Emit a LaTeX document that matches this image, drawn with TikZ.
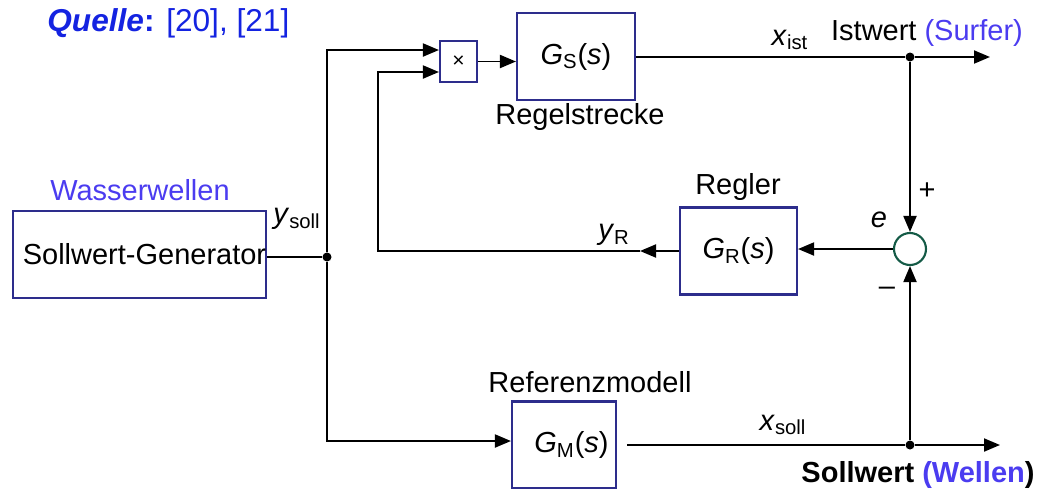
\documentclass[tikz,border=0pt]{standalone}
\usepackage{fontspec}
\setmainfont{Liberation Sans}
\usetikzlibrary{arrows.meta}
\definecolor{srcblue}{RGB}{20,35,225}
\definecolor{lblblue}{RGB}{75,60,240}
\definecolor{boxblue}{RGB}{45,45,140}
\definecolor{sumgreen}{RGB}{20,90,70}
\tikzset{
  block/.style={draw=boxblue,line width=1.2pt,inner sep=0pt,font=\fontsize{16.5}{20}\selectfont},
  sig/.style={line width=1.1pt,-{Triangle[length=0.32cm,width=0.26cm]}},
  wire/.style={line width=1.1pt},
  dot/.style={circle,fill=black,inner sep=0pt,minimum size=0.18cm},
  lbl/.style={inner sep=0pt,font=\fontsize{16.5}{20}\selectfont},
}
\begin{document}
\begin{tikzpicture}[x=0.02cm,y=-0.02cm]
   \useasboundingbox (0,0) rectangle (1039,488);

   \node[lbl,anchor=west,text=srcblue,font=\fontsize{18}{22}\selectfont] (src) at (47,23) {\textbf{\textit{Quelle}:} [20], [21]};

   \node[block,minimum width=5.06cm,minimum height=1.74cm] (gen) at (139.5,254.5) {\hspace{0.2cm}Sollwert-Generator};
   \node[lbl,text=lblblue] (wave) at (140,190) {Wasserwellen};
   \node[block,minimum width=0.74cm,minimum height=0.82cm,font=\fontsize{12}{14}\selectfont] (mult) at (458.5,61.5) {×};
   \node[block,minimum width=2.36cm,minimum height=1.74cm] (gs) at (576,56.5) {\textit{G}\textsubscript{S}(\textit{s})};
   \node[lbl] (strecke) at (580,117) {Regelstrecke};
   \node[block,minimum width=2.34cm,minimum height=1.74cm] (gr) at (738.5,251) {\textit{G}\textsubscript{R}(\textit{s})};
   \node[lbl] (regler) at (738,187) {Regler};
   \node[block,minimum width=2.08cm,minimum height=1.74cm] (gm) at (564,445) {\hspace{0.3cm}\textit{G}\textsubscript{M}(\textit{s})};
   \node[lbl] (refm) at (590,382) {Referenzmodell};
   \node[draw=sumgreen,circle,line width=1.2pt,minimum size=0.64cm,inner sep=0pt] (sum) at (910,249) {};

   \node[dot] (j1) at (327,257) {};
   \node[dot] (j2) at (910,57) {};
   \node[dot] (j3) at (910,445) {};
   \coordinate (out1) at (990,57);
   \coordinate (out2) at (1000,445);
   \coordinate (yR) at (640,251);
   \coordinate (top1) at (327,50);
   \coordinate (bot1) at (327,441);
   \coordinate (fb) at (378,251);

   % signal paths
   \draw[wire] (gen.east |- j1) -- (j1);
   \draw[sig] (j1) -- (top1) -- ([yshift=0.23cm]mult.west);
   \draw[sig] (j1) -- (bot1) -- (gm.west |- bot1);
   \draw[sig] (mult.east) -- (gs.west |- mult.east);
   \draw[wire] (gs.east |- j2) -- (j2);
   \draw[sig] (j2) -- (out1);
   \draw[sig] (j2) -- (sum.north);
   \draw[sig] (sum.west) -- (gr.east |- sum.west);
   \draw[sig] (gr.west) -- (yR);
   \draw[sig] (yR) -- (fb) |- ([yshift=-0.21cm]mult.west);
   \draw[wire] ([xshift=0.2cm]gm.east) -- (j3);
   \draw[sig] (j3) -- (out2);
   \draw[sig] (j3) -- (sum.south);

   \node[lbl] (ysoll) at (297,219) {\textit{y}\textsubscript{soll}};
   \node[lbl] (xist) at (790,40) {\textit{x}\textsubscript{ist}};
   \node[lbl] (ist) at (927,33) {Istwert \textcolor{lblblue}{(Surfer)}};
   \node[lbl] (err) at (879,220) {\textit{e}};
   \node[lbl] (plus) at (927,191) {+};
   \node[lbl] (minus) at (887,291) {–};
   \node[lbl] (yr) at (614,235) {\textit{y}\textsubscript{R}};
   \node[lbl] (xsoll) at (783,425) {\textit{x}\textsubscript{soll}};
   \node[lbl,font=\fontsize{16.5}{20}\selectfont\bfseries] (soll) at (918,475) {Sollwert \textcolor{lblblue}{(Wellen})};

\end{tikzpicture}
\end{document}
